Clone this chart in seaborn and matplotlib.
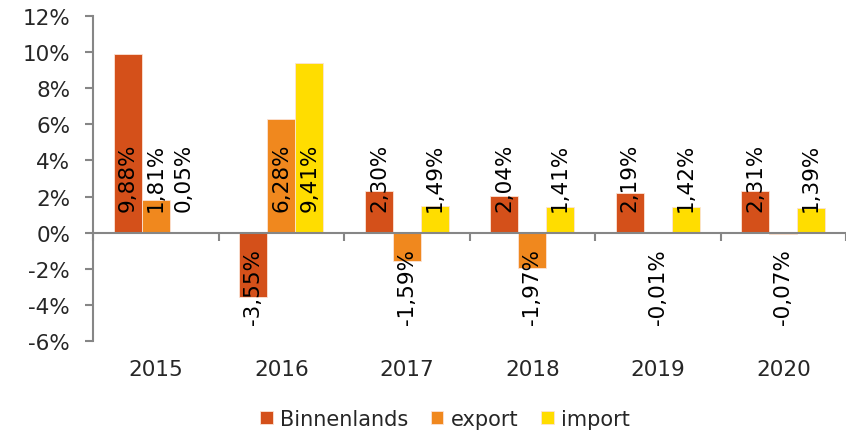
import matplotlib
matplotlib.use("Agg")
import matplotlib.pyplot as plt
import seaborn as sns
import pandas as pd

# Annual growth per year and flow
years = ["2015", "2016", "2017", "2018", "2019", "2020"]
series = ["Binnenlands", "export", "import"]
binnenlands = [9.88, -3.55, 2.30, 2.04, 2.19, 2.31]
export = [1.81, 6.28, -1.59, -1.97, -0.01, -0.07]
imports = [0.05, 9.41, 1.49, 1.41, 1.42, 1.39]
colors = {"Binnenlands": "#D4501A", "export": "#F0881E", "import": "#FFDD00"}

df = pd.DataFrame({
    "jaar": years * 3,
    "reeks": [s for s in series for _ in years],
    "waarde": binnenlands + export + imports,
})

sns.set_theme(style="white")
plt.rcParams["font.family"] = ["DejaVu Sans"]
FS = 15.5
GRAY = "#868686"

fig, ax = plt.subplots(figsize=(8.46, 4.31), dpi=100)
fig.subplots_adjust(left=0.110, right=1.0, top=0.9606, bottom=0.2065)

sns.barplot(data=df, x="jaar", y="waarde", hue="reeks", order=years,
            hue_order=series, palette=colors, width=0.667, gap=0,
            edgecolor="#FBE3D6", linewidth=0.6, saturation=1, ax=ax,
            legend=True)

# Rotated value labels, anchored at the zero line
for container, name in zip(ax.containers, series):
    for bar, val in zip(container, df[df["reeks"] == name]["waarde"]):
        xc = bar.get_x() + bar.get_width() / 2
        txt = f"{val:.2f}%".replace(".", ",")
        if val >= 0:
            ax.annotate(txt, (xc, 0), xytext=(0, 15.5), textcoords="offset points",
                        rotation=90, ha="center", va="bottom", fontsize=FS,
                        color="black")
        else:
            ax.annotate(txt, (xc, 0), xytext=(0, -11), textcoords="offset points",
                        rotation=90, ha="center", va="top", fontsize=FS,
                        color="black")

ax.set_ylim(-6, 12)
ax.set_xlim(-0.5, 5.5)
ax.set_yticks(range(-6, 13, 2))
ax.set_yticklabels([f"{v}%" for v in range(-6, 13, 2)], fontsize=FS)
ax.tick_params(axis="y", direction="out", length=5.5, width=1.5, color=GRAY,
               pad=11, left=True)
ax.set_xlabel("")
ax.set_ylabel("")

for s in ["top", "right"]:
    ax.spines[s].set_visible(False)
ax.spines["left"].set_color(GRAY)
ax.spines["left"].set_linewidth(1.5)
ax.spines["bottom"].set_position(("data", 0))
ax.spines["bottom"].set_color(GRAY)
ax.spines["bottom"].set_linewidth(1.5)

# Category separators on the zero line
ax.set_xticks([i - 0.5 for i in range(len(years) + 1)], minor=True)
ax.tick_params(axis="x", which="minor", direction="out", length=6, width=1.5,
               color=GRAY, bottom=True)
ax.tick_params(axis="x", which="major", length=0, labelbottom=False)

# Year labels along the bottom of the plot area
sec = ax.secondary_xaxis("bottom")
sec.set_xticks(range(len(years)), labels=years)
sec.tick_params(length=0, pad=13, labelsize=FS)
sec.spines["bottom"].set_visible(False)

handles, labels = ax.get_legend_handles_labels()
ax.legend_.remove()
fig.legend(handles, labels, loc="center", bbox_to_anchor=(0.526, 0.026),
           ncol=3, frameon=False, fontsize=15, handlelength=0.6,
           handleheight=0.6, handletextpad=0.35, columnspacing=1.1,
           borderaxespad=0)

fig.savefig("out.png", dpi=100)
